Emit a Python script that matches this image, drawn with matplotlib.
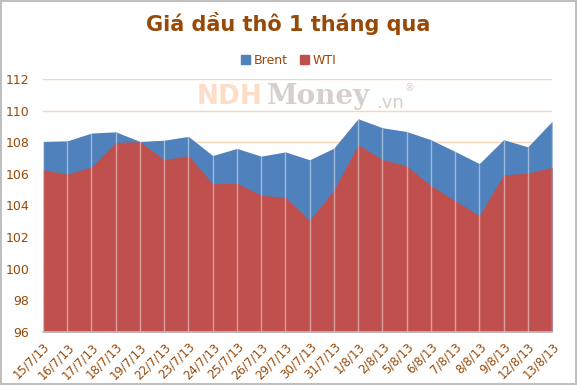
import numpy as np
import matplotlib
matplotlib.use("Agg")
import matplotlib.pyplot as plt
from matplotlib.patches import Patch

# ── Dữ liệu (USD/thùng)
DATES = ["15/7/13", "16/7/13", "17/7/13", "18/7/13", "19/7/13", "22/7/13",
         "23/7/13", "24/7/13", "25/7/13", "26/7/13", "29/7/13", "30/7/13",
         "31/7/13", "1/8/13", "2/8/13", "5/8/13", "6/8/13", "7/8/13",
         "8/8/13", "9/8/13", "12/8/13", "13/8/13"]
BRENT = [108.05, 108.09, 108.58, 108.66, 108.05, 108.13, 108.37, 107.16,
         107.61, 107.12, 107.39, 106.89, 107.63, 109.49, 108.92, 108.68,
         108.16, 107.42, 106.65, 108.16, 107.71, 109.32]
WTI = [106.27, 105.98, 106.44, 107.99, 108.03, 106.89, 107.16, 105.37,
       105.41, 104.65, 104.51, 103.06, 104.98, 107.84, 106.91, 106.51,
       105.26, 104.31, 103.36, 105.94, 106.04, 106.42]
YTICKS = [96, 98, 100, 102, 104, 106, 108, 110, 112]

BLUE  = '#4F81BD'
RED   = '#C0504D'
BROWN = '#984807'
GRID  = '#F7D5B8'

fig = plt.figure(figsize=(5.77, 3.85), dpi=100)
fig.patch.set_edgecolor('#BFBFBF')
fig.patch.set_linewidth(1.5)
ax = fig.add_axes([0.0745, 0.1377, 0.9567 - 0.0745, 0.7948 - 0.1377])

x = np.arange(len(DATES))
ax.fill_between(x, 96, BRENT, color=BLUE, lw=0, zorder=2)
ax.fill_between(x, 96, WTI, color=RED, lw=0, zorder=3)
ax.vlines(x, 96, BRENT, color='white', alpha=0.45, lw=1, zorder=4)

ax.set_xlim(0, len(DATES) - 1)
ax.set_ylim(96, 112)
ax.set_yticks(YTICKS)
ax.grid(True, axis='y', color=GRID, lw=1, zorder=1)
ax.set_axisbelow(True)

for s in ['top', 'right', 'left']:
    ax.spines[s].set_visible(False)
ax.spines['bottom'].set_color('#BFBFBF')
ax.spines['bottom'].set_linewidth(1.2)
ax.spines['bottom'].set_zorder(5)

ax.tick_params(axis='both', length=0, colors=BROWN, labelsize=9)
ax.tick_params(axis='y', pad=10)
ax.set_xticks(x)
ax.set_xticklabels(DATES, rotation=45, ha='right', rotation_mode='anchor', fontsize=8.5)
ax.tick_params(axis='x', pad=6)

# watermark NDHMoney.vn
ax.text(0.3025, 0.93, "NDH", transform=ax.transAxes, fontsize=19, fontweight='bold',
        color='#FDDCC8', ha='left', va='center', zorder=1)
ax.text(0.44, 0.93, "Money", transform=ax.transAxes, fontsize=20, fontweight='bold',
        color='#D3D0CF', ha='left', va='center', family='DejaVu Serif', zorder=1)
ax.text(0.655, 0.905, ".vn", transform=ax.transAxes, fontsize=13,
        color='#D3D0CF', ha='left', va='center', zorder=1)
ax.text(0.71, 0.965, "®", transform=ax.transAxes, fontsize=7,
        color='#D3D0CF', ha='left', va='center', zorder=1)

fig.text(0.5, 0.94, "Giá dầu thô 1 tháng qua", ha='center', va='center',
         fontsize=15, fontweight='bold', color=BROWN)

handles = [Patch(color=BLUE, label='Brent'), Patch(color=RED, label='WTI')]
leg = fig.legend(handles=handles, loc='center', bbox_to_anchor=(0.5, 0.843), ncol=2,
                 frameon=False, fontsize=9, handlelength=0.7, handleheight=0.7,
                 handletextpad=0.3, columnspacing=1.0)
for t in leg.get_texts():
    t.set_color(BROWN)

fig.savefig("out.png", dpi=100)
